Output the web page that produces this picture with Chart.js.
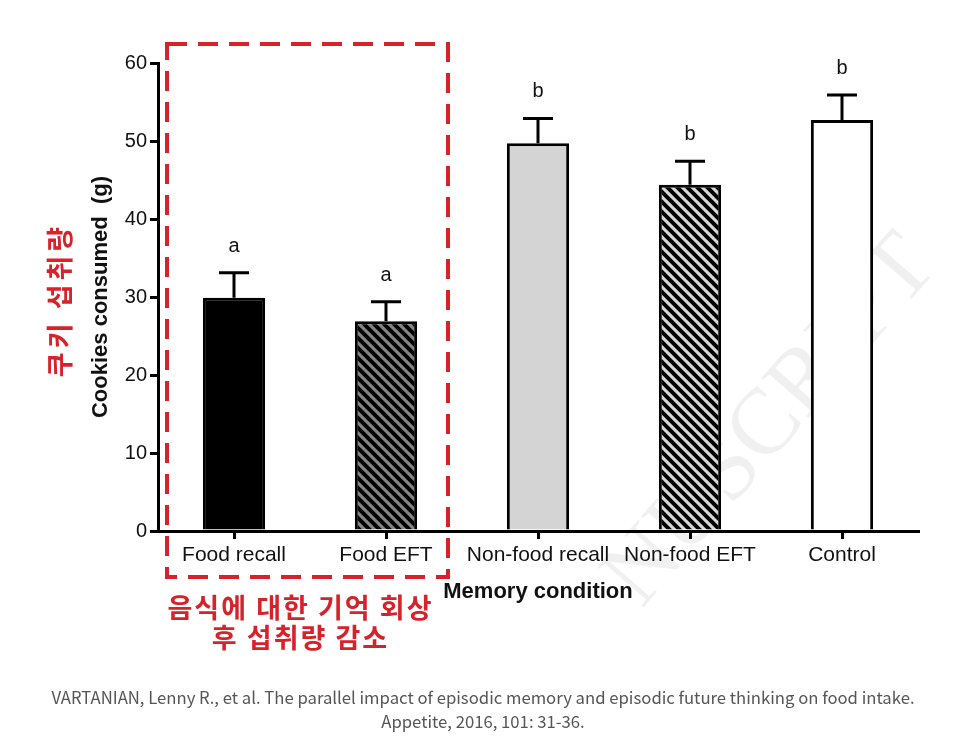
<!DOCTYPE html>
<html>
<head>
<meta charset="utf-8">
<title>Cookies consumed by memory condition</title>
<script src="https://cdn.jsdelivr.net/npm/chart.js"></script>
<style>
    html, body { margin: 0; padding: 0; background: #fff; }
    #wrap { position: relative; width: 966px; height: 749px; overflow: hidden; }
    #cookieChart { position: absolute; left: 0; top: 0; }
    .caption {
        position: absolute; left: 0; top: 685px; width: 966px;
        text-align: center; color: #555;
        font-family: "Noto Sans CJK KR", "Noto Sans", sans-serif;
        font-size: 16.7px; line-height: 24px;
    }
</style>
</head>
<body>
<div id="wrap">
    <canvas id="cookieChart" width="966" height="749"></canvas>
    <div class="caption">VARTANIAN, Lenny R., et al. The parallel impact of episodic memory and episodic future thinking on food intake.<br>Appetite, 2016, 101: 31-36.</div>
</div>
<script>
// values
const conditions = ['Food recall', 'Food EFT', 'Non-food recall', 'Non-food EFT', 'Control'];
const means = [29.9, 26.9, 49.7, 44.4, 52.7];
const sems = [3.2, 2.5, 3.2, 3.0, 3.2];
const letters = ['a', 'a', 'b', 'b', 'b'];
const yTicks = [0, 10, 20, 30, 40, 50, 60];

const sans = '"Liberation Sans", Arial, sans-serif';
const kr = '"Noto Sans CJK KR", sans-serif';

// diagonal hatch (\\\) on a coloured ground
const hatch = (ground) => {
    const s = 10;
    const c = document.createElement('canvas');
    c.width = s; c.height = s;
    const g = c.getContext('2d');
    g.fillStyle = ground;
    g.fillRect(0, 0, s, s);
    g.strokeStyle = '#000';
    g.lineWidth = 4;
    g.beginPath();
    g.moveTo(-2, -2); g.lineTo(s + 2, s + 2);
    g.moveTo(-2, s - 2); g.lineTo(2, s + 2);
    g.moveTo(s - 2, -2); g.lineTo(s + 2, 2);
    g.stroke();
    return document.getElementById('cookieChart').getContext('2d').createPattern(c, 'repeat');
};

const fills = ['#000000', hatch('#858585'), '#d4d4d4', hatch('#d8d8d8'), '#ffffff'];

const annotations = {
    id: 'annotations',
    beforeDatasetsDraw(chart) {
        // faint "manuscript" watermark from the source image
        const ctx = chart.ctx;
        ctx.save();
        ctx.translate(772, 422);
        ctx.rotate(-49 * Math.PI / 180);
        ctx.font = '94px "Liberation Serif", serif';
        ctx.fillStyle = 'rgba(0, 0, 0, 0.06)';
        ctx.textAlign = 'center';
        ctx.textBaseline = 'middle';
        ctx.fillText('NUSCRIPT', 0, 0);
        ctx.restore();
    },
    afterDatasetsDraw(chart) {
        const ctx = chart.ctx;
        const y = chart.scales.y;
        const meta = chart.getDatasetMeta(0);
        ctx.save();
        ctx.strokeStyle = '#000';
        ctx.lineWidth = 3;
        ctx.fillStyle = '#111';
        ctx.font = '20px ' + sans;
        ctx.textAlign = 'center';
        ctx.textBaseline = 'alphabetic';
        meta.data.forEach((bar, i) => {
            const top = y.getPixelForValue(means[i]);
            const err = y.getPixelForValue(means[i] + sems[i]);
            ctx.beginPath();
            ctx.moveTo(bar.x, top);
            ctx.lineTo(bar.x, err);
            ctx.moveTo(bar.x - 15, err);
            ctx.lineTo(bar.x + 15, err);
            ctx.stroke();
            ctx.fillText(letters[i], bar.x, err - 21);
        });
        ctx.restore();
    },
    afterDraw(chart) {
        const ctx = chart.ctx;
        const area = chart.chartArea;
        const x = chart.scales.x;
        const red = '#d8222a';
        const left = area.left + 9;
        const right = x.getPixelForValue(1) + 62;
        const top = area.top - 19;
        const bottom = area.bottom + 46;
        ctx.save();
        ctx.strokeStyle = red;
        ctx.lineWidth = 4;
        ctx.setLineDash([20, 11]);
        ctx.strokeRect(left, top, right - left, bottom - top);
        ctx.setLineDash([]);

        ctx.fillStyle = red;
        ctx.font = 'bold 27px ' + kr;
        ctx.letterSpacing = '2px';
        ctx.textAlign = 'center';
        ctx.textBaseline = 'middle';
        const cx = (left + right) / 2 - 7;
        ctx.fillText('음식에 대한 기억 회상', cx, bottom + 31);
        ctx.fillText('후 섭취량 감소', cx, bottom + 61);

        ctx.letterSpacing = '4px';
        ctx.translate(60, (area.top + area.bottom) / 2 + 3);
        ctx.rotate(-Math.PI / 2);
        ctx.fillText('쿠키 섭취량', 0, 0);
        ctx.restore();
    }
};

new Chart(document.getElementById('cookieChart'), {
    type: 'bar',
    data: {
        labels: conditions,
        datasets: [{
            data: means,
            backgroundColor: fills,
            borderColor: '#000',
            borderWidth: 3,
            borderSkipped: 'bottom',
            barPercentage: 0.41,
            categoryPercentage: 1.0
        }]
    },
    options: {
        responsive: false,
        animation: false,
        layout: { padding: { top: 63, right: 48, left: 0, bottom: 0 } },
        plugins: { legend: { display: false }, tooltip: { enabled: false } },
        scales: {
            x: {
                afterFit: scale => { scale.height = 218; },
                grid: { offset: false, drawOnChartArea: false, drawTicks: true, tickLength: 8, lineWidth: 3, color: '#000' },
                border: { display: true, width: 3, color: '#000' },
                ticks: { color: '#111', font: { family: sans, size: 21 }, padding: 4, maxRotation: 0, autoSkip: false },
                title: {
                    display: true, text: 'Memory condition', color: '#111',
                    font: { family: sans, size: 22, weight: 'bold' },
                    padding: { top: 0, bottom: 144 }
                }
            },
            y: {
                min: 0, max: 60,
                afterFit: scale => { scale.width = 158; },
                afterBuildTicks: scale => { scale.ticks = yTicks.map(v => ({ value: v })); },
                grid: { drawOnChartArea: false, drawTicks: true, tickLength: 8, lineWidth: 3, color: '#000' },
                border: { display: true, width: 3, color: '#000' },
                ticks: { color: '#111', font: { family: sans, size: 20 }, padding: 3 },
                title: {
                    display: true, text: 'Cookies consumed  (g)', color: '#111',
                    font: { family: sans, size: 22, weight: 'bold' },
                    padding: { top: 88, bottom: 0 }
                }
            }
        }
    },
    plugins: [annotations]
});
</script>
</body>
</html>
